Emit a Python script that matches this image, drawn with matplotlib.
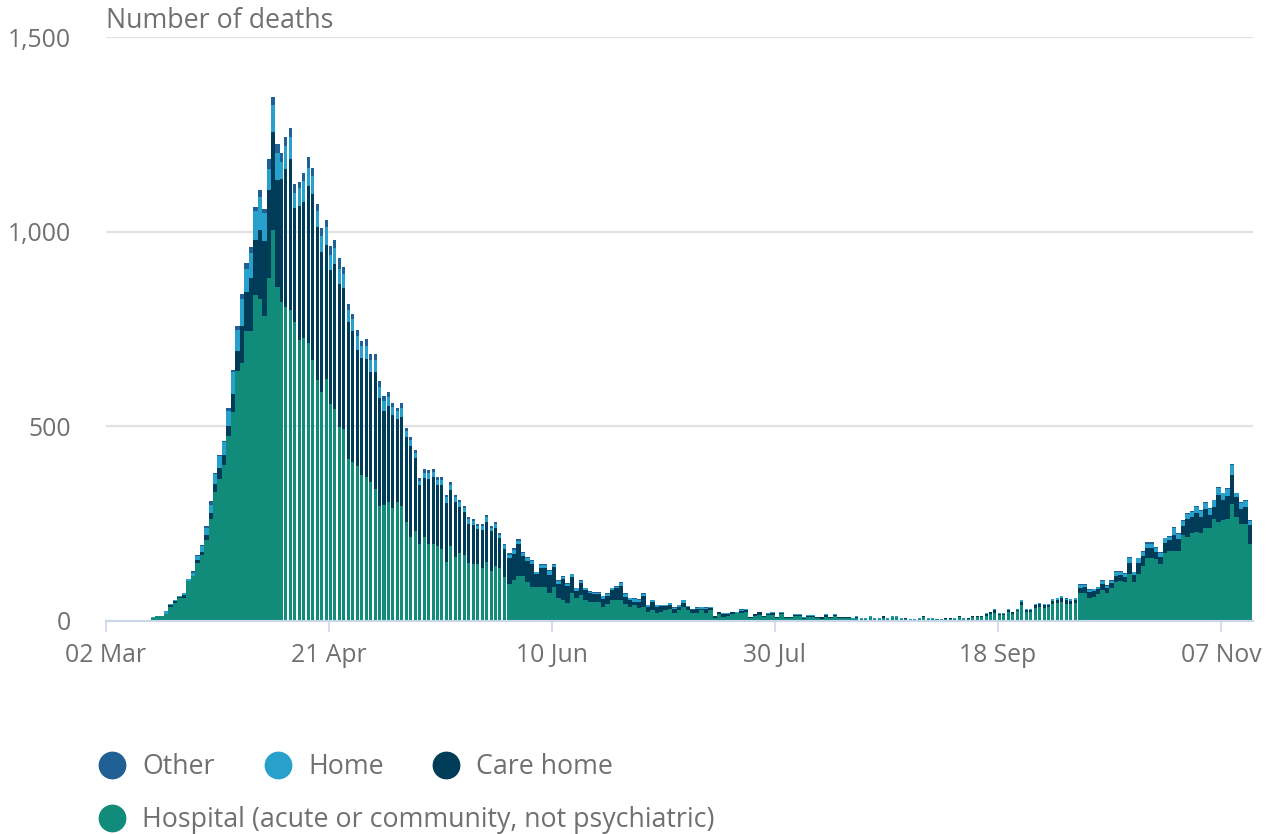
import numpy as np
import pandas as pd
import matplotlib
matplotlib.use("Agg")
from matplotlib import pyplot as plt
import matplotlib.dates as mdates

plt.rcParams['font.family'] = ['Open Sans', 'DejaVu Sans']

# daily deaths by place of occurrence, starting 02 Mar
start = "2020-03-02"

hospital = [
    0, 0, 0, 0, 0, 0, 0, 0, 0, 0,
    8, 12, 13, 19, 37, 45, 59, 60, 103, 115,
    150, 170, 209, 261, 331, 366, 401, 474, 538, 642,
    662, 745, 745, 837, 826, 784, 882, 1003, 858, 819,
    806, 800, 767, 723, 727, 714, 670, 620, 587, 622,
    557, 544, 498, 494, 415, 408, 399, 376, 370, 357,
    340, 295, 299, 306, 289, 306, 295, 255, 216, 231,
    197, 216, 197, 197, 193, 184, 152, 193, 164, 174,
    170, 148, 146, 146, 135, 152, 129, 140, 135, 112,
    95, 105, 116, 116, 101, 88, 88, 88, 88, 71,
    88, 58, 54, 45, 71, 60, 67, 54, 50, 50,
    50, 37, 44, 54, 54, 54, 44, 37, 41, 33,
    37, 24, 28, 20, 24, 28, 31, 20, 28, 35,
    28, 20, 21, 28, 21, 27, 7, 17, 11, 13,
    18, 20, 20, 24, 7, 13, 15, 9, 15, 15,
    7, 17, 7, 7, 12, 12, 6, 9, 10, 7,
    6, 11, 7, 12, 7, 7, 7, 5, 8, 5,
    4, 9, 5, 4, 8, 4, 10, 10, 6, 5,
    3, 3, 4, 9, 6, 5, 4, 3, 5, 5,
    6, 9, 6, 5, 10, 10, 10, 14, 17, 20,
    16, 16, 22, 18, 25, 40, 22, 24, 33, 36,
    33, 35, 43, 46, 50, 44, 44, 46, 71, 71,
    60, 62, 70, 80, 72, 84, 100, 102, 100, 122,
    101, 122, 140, 161, 161, 158, 146, 174, 180, 180,
    180, 221, 217, 227, 229, 227, 238, 238, 261, 255,
    259, 261, 300, 266, 248, 249, 197,
]

care_home = [
    0, 0, 0, 0, 0, 0, 0, 0, 0, 0,
    0, 0, 0, 0, 4, 6, 2, 7, 0, 0,
    6, 6, 11, 16, 20, 26, 26, 26, 45, 52,
    96, 100, 135, 142, 177, 192, 224, 252, 275, 315,
    356, 387, 293, 344, 349, 404, 428, 392, 362, 344,
    344, 373, 368, 362, 354, 337, 298, 300, 302, 283,
    300, 277, 241, 245, 241, 212, 228, 218, 234, 187,
    153, 151, 168, 172, 156, 165, 152, 143, 142, 120,
    109, 102, 101, 91, 100, 102, 101, 100, 78, 74,
    67, 68, 82, 50, 53, 58, 32, 49, 47, 46,
    50, 37, 54, 44, 43, 16, 30, 26, 21, 19,
    19, 20, 20, 25, 30, 37, 17, 18, 9, 16,
    27, 12, 21, 16, 14, 10, 11, 12, 8, 12,
    8, 8, 10, 4, 9, 6, 5, 5, 7, 6,
    5, 1, 6, 3, 3, 4, 7, 3, 3, 6,
    3, 4, 3, 2, 4, 3, 2, 4, 3, 3,
    4, 5, 3, 4, 3, 2, 3, 1, 3, 0,
    0, 2, 1, 0, 4, 0, 1, 0, 0, 2,
    0, 0, 2, 3, 0, 0, 0, 0, 2, 2,
    0, 3, 0, 2, 2, 2, 3, 4, 5, 8,
    3, 3, 7, 4, 4, 10, 7, 5, 7, 7,
    7, 6, 9, 9, 9, 9, 8, 9, 15, 16,
    14, 14, 12, 16, 13, 14, 16, 16, 14, 28,
    16, 27, 26, 26, 26, 20, 18, 26, 27, 40,
    30, 22, 44, 40, 48, 40, 50, 35, 33, 68,
    52, 60, 74, 52, 40, 45, 50,
]

home = [
    0, 0, 0, 0, 0, 0, 0, 0, 0, 0,
    1, 1, 0, 6, 2, 3, 4, 4, 4, 9,
    11, 16, 20, 22, 26, 33, 33, 39, 57, 54,
    68, 60, 64, 75, 86, 73, 56, 70, 70, 44,
    59, 55, 39, 45, 55, 45, 45, 40, 40, 45,
    40, 40, 38, 34, 30, 30, 35, 30, 35, 30,
    30, 30, 25, 25, 20, 22, 25, 15, 15, 14,
    10, 14, 14, 14, 14, 14, 14, 14, 12, 12,
    12, 12, 10, 8, 10, 12, 10, 10, 8, 8,
    8, 10, 8, 8, 8, 8, 5, 6, 8, 12,
    6, 8, 6, 6, 6, 8, 6, 4, 4, 4,
    4, 6, 6, 6, 4, 6, 8, 4, 6, 6,
    6, 4, 4, 4, 2, 2, 4, 2, 4, 6,
    2, 1, 3, 3, 4, 2, 1, 2, 2, 1,
    1, 3, 3, 3, 1, 1, 2, 1, 2, 2,
    1, 3, 1, 2, 2, 3, 1, 2, 2, 1,
    1, 2, 1, 2, 1, 2, 1, 1, 2, 2,
    3, 2, 1, 3, 1, 3, 2, 3, 1, 0,
    1, 1, 1, 1, 1, 2, 0, 1, 0, 0,
    1, 1, 1, 0, 1, 1, 0, 2, 2, 2,
    1, 1, 2, 2, 2, 4, 2, 2, 3, 4,
    3, 2, 4, 4, 5, 4, 4, 4, 6, 5,
    6, 5, 5, 7, 6, 6, 10, 9, 8, 12,
    8, 12, 12, 12, 12, 10, 10, 12, 10, 20,
    13, 14, 15, 14, 15, 16, 16, 14, 16, 19,
    17, 18, 26, 10, 16, 15, 10,
]

other = [
    0, 0, 0, 0, 0, 0, 0, 0, 0, 0,
    0, 0, 0, 0, 0, 0, 0, 1, 0, 4,
    3, 2, 4, 8, 4, 2, 2, 9, 4, 10,
    15, 15, 17, 10, 17, 10, 24, 22, 22, 24,
    22, 25, 24, 15, 20, 30, 20, 20, 20, 20,
    22, 22, 28, 20, 14, 14, 16, 14, 18, 16,
    16, 14, 12, 12, 10, 8, 12, 8, 8, 6,
    8, 10, 8, 8, 6, 6, 6, 8, 6, 6,
    4, 4, 4, 4, 4, 6, 4, 5, 4, 4,
    4, 4, 4, 4, 3, 3, 2, 3, 3, 2,
    2, 2, 2, 2, 2, 2, 2, 2, 2, 2,
    2, 2, 1, 1, 2, 2, 2, 1, 2, 2,
    1, 1, 1, 1, 1, 1, 1, 1, 1, 1,
    1, 1, 1, 0, 1, 0, 0, 0, 0, 0,
    0, 0, 1, 0, 0, 0, 0, 0, 0, 1,
    0, 0, 0, 0, 0, 0, 0, 0, 0, 0,
    0, 0, 0, 0, 0, 0, 0, 0, 0, 0,
    0, 0, 0, 0, 0, 0, 0, 0, 0, 0,
    0, 0, 0, 0, 0, 0, 0, 0, 0, 0,
    0, 0, 0, 0, 0, 0, 0, 0, 0, 0,
    0, 0, 0, 0, 0, 0, 0, 0, 0, 0,
    0, 0, 0, 1, 1, 1, 0, 1, 2, 2,
    2, 1, 1, 2, 1, 1, 2, 1, 2, 2,
    2, 2, 2, 3, 3, 3, 2, 2, 2, 2,
    2, 2, 2, 2, 3, 2, 2, 2, 2, 3,
    2, 2, 3, 2, 2, 2, 2,
]

series = [
    ("Hospital (acute or community, not psychiatric)", hospital, "#118c7b"),
    ("Care home", care_home, "#003c57"),
    ("Home", home, "#27a0cc"),
    ("Other", other, "#206095"),
]

n = len(hospital)
dates = pd.date_range(start, periods=n, freq="D")
x = mdates.date2num(dates)

# the original render shows thin white gaps between bars in two stretches
widths = np.ones(n)
for a, b in [("2020-04-10", "2020-05-30"), ("2020-08-17", "2020-10-05")]:
    mask = (dates >= a) & (dates <= b)
    widths[mask] = 0.68

grey = "#707070"
axis_col = "#ccd6eb"

fig = plt.figure(figsize=(12.74, 8.34), dpi=100)
ax = fig.add_axes([106 / 1274, 213 / 834, 1147 / 1274, 584 / 834])

bottom = np.zeros(n)
for name, vals, col in series:
    vals = np.array(vals, dtype=float)
    ax.bar(x, vals, width=widths, bottom=bottom, align="edge", color=col,
           linewidth=0, zorder=3)
    bottom += vals

ax.set_ylim(0, 1500)
ax.set_xlim(x[0], x[0] + 257.2)
ax.set_yticks([0, 500, 1000, 1500])
ax.set_yticklabels(["0", "500", "1,000", "1,500"])
ax.grid(axis="y", color="#e2e2e2", linewidth=1.6, zorder=0)
ax.set_axisbelow(True)

tick_dates = dates[::50]
ax.set_xticks(mdates.date2num(tick_dates))
ax.set_xticklabels([d.strftime("%d %b") for d in tick_dates])

for s in ["top", "right", "left"]:
    ax.spines[s].set_visible(False)
ax.spines["bottom"].set_color(axis_col)
ax.spines["bottom"].set_linewidth(1.5)
ax.spines["bottom"].set_zorder(4)

ax.tick_params(axis="y", length=0, pad=25, labelsize=17.8, labelcolor=grey)
ax.tick_params(axis="x", length=8, width=1.2, color=axis_col, pad=8,
               labelsize=17.8, labelcolor=grey)

fig.text(106 / 1274, 1 - 21 / 834, "Number of deaths", fontsize=19.3,
         color=grey, va="center", ha="left")

# legend drawn in pixel coordinates
lax = fig.add_axes([0, 0, 1, 1])
lax.set_xlim(0, 1274)
lax.set_ylim(834, 0)
lax.axis("off")
legend_spots = {
    "Other": (112, 765),
    "Home": (278, 765),
    "Care home": (446, 765),
    "Hospital (acute or community, not psychiatric)": (112, 818),
}
for name, vals, col in series:
    px, py = legend_spots[name]
    lax.plot(px, py, "o", markersize=19, color=col)
    lax.text(px + 30, py + 2, name, fontsize=19.3, color=grey, va="center",
             ha="left")

fig.savefig("out.png", dpi=100)
